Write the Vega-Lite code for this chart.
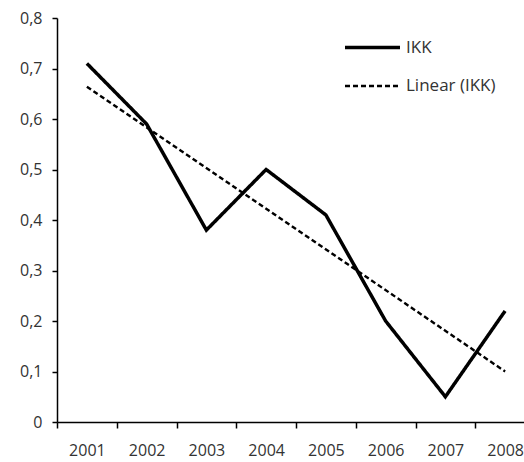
{
  "$schema": "https://vega.github.io/schema/vega-lite/v6.json",
  "width": 467,
  "height": 404,
  "autosize": {"type": "none"},
  "padding": {"left": 57, "top": 18, "right": 0, "bottom": 40},
  "background": "white",
  "config": {"view": {"stroke": null}, "font": "Open Sans"},
  "data": {
    "values": [
      {"year": "2001", "value": 0.71, "series": "IKK"},
      {"year": "2002", "value": 0.59, "series": "IKK"},
      {"year": "2003", "value": 0.38, "series": "IKK"},
      {"year": "2004", "value": 0.50, "series": "IKK"},
      {"year": "2005", "value": 0.41, "series": "IKK"},
      {"year": "2006", "value": 0.20, "series": "IKK"},
      {"year": "2007", "value": 0.05, "series": "IKK"},
      {"year": "2008", "value": 0.22, "series": "IKK"},
      {"year": "2001", "value": 0.664, "series": "Linear (IKK)"},
      {"year": "2008", "value": 0.100, "series": "Linear (IKK)"}
    ]
  },
  "mark": {"type": "line", "strokeCap": "butt", "strokeJoin": "miter"},
  "encoding": {
    "x": {
      "field": "year",
      "type": "ordinal",
      "scale": {"type": "band", "paddingInner": 0, "paddingOuter": 0, "range": [0, 478]},
      "axis": {
        "title": null,
        "tickBand": "extent",
        "labelAngle": 0,
        "domainColor": "black",
        "domainWidth": 1.5,
        "tickColor": "black",
        "tickWidth": 1.5,
        "tickSize": 6,
        "labelFont": "Open Sans",
        "labelFontSize": 16,
        "labelColor": "#333333",
        "labelPadding": 14
      }
    },
    "y": {
      "field": "value",
      "type": "quantitative",
      "scale": {"domain": [0, 0.8]},
      "axis": {
        "title": null,
        "grid": false,
        "values": [0, 0.1, 0.2, 0.3, 0.4, 0.5, 0.6, 0.7, 0.8],
        "labelExpr": "datum.value == 0 ? '0' : replace(format(datum.value, '.1f'), '.', ',')",
        "domainColor": "black",
        "domainWidth": 1.5,
        "tickColor": "black",
        "tickWidth": 1.5,
        "tickSize": 5,
        "labelFont": "Open Sans",
        "labelFontSize": 16,
        "labelColor": "#333333",
        "labelPadding": 10
      }
    },
    "detail": {"field": "series"},
    "color": {
      "field": "series",
      "type": "nominal",
      "scale": {"domain": ["IKK", "Linear (IKK)"], "range": ["black", "black"]},
      "legend": {
        "title": null,
        "orient": "none",
        "legendX": 286,
        "legendY": 0,
        "symbolType": "stroke",
        "symbolSize": 3025,
        "labelFont": "Open Sans",
        "labelFontSize": 17,
        "labelColor": "#333333",
        "labelOffset": 4,
        "rowPadding": 1
      }
    },
    "strokeDash": {
      "field": "series",
      "type": "nominal",
      "scale": {"domain": ["IKK", "Linear (IKK)"], "range": [[1, 0], [5, 3]]}
    },
    "strokeWidth": {
      "field": "series",
      "type": "nominal",
      "scale": {"domain": ["IKK", "Linear (IKK)"], "range": [3.5, 2.4]}
    }
  }
}
